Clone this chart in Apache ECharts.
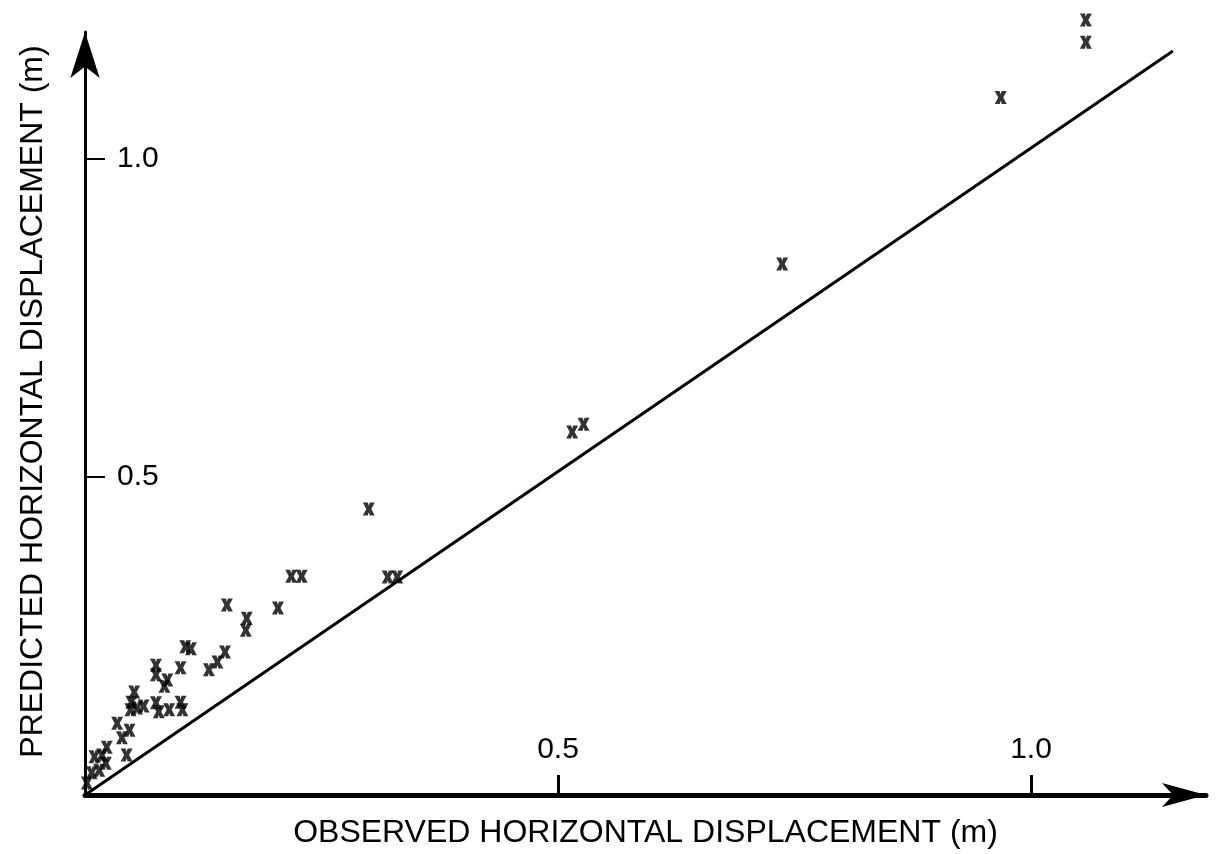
<!DOCTYPE html>
<html>
<head>
<meta charset="utf-8">
<title>Predicted vs observed horizontal displacement</title>
<script src="https://cdn.jsdelivr.net/npm/echarts@6/dist/echarts.min.js"></script>
<style>
  html, body { margin: 0; padding: 0; background: #fff; }
  #main { width: 1227px; height: 854px; }
</style>
</head>
<body>
<div id="main"></div>
<script>
// observed horizontal displacement (m)
var observed = [1.058, 1.058, 0.968, 0.737, 0.515, 0.527, 0.300, 0.320, 0.330, 0.218,
                0.229, 0.150, 0.204, 0.171, 0.170, 0.112, 0.106, 0.131, 0.140, 0.148,
                0.075, 0.075, 0.087, 0.084, 0.101, 0.052, 0.049, 0.055, 0.062, 0.048,
                0.075, 0.078, 0.089, 0.101, 0.103, 0.034, 0.047, 0.039, 0.023, 0.018,
                0.010, 0.022, 0.015, 0.007, 0.044, 0.002];
// predicted horizontal displacement (m)
var predicted = [1.219, 1.184, 1.097, 0.835, 0.571, 0.583, 0.450, 0.343, 0.343, 0.344,
                 0.344, 0.299, 0.294, 0.278, 0.259, 0.230, 0.233, 0.197, 0.209, 0.225,
                 0.204, 0.189, 0.181, 0.171, 0.200, 0.162, 0.146, 0.137, 0.140, 0.134,
                 0.145, 0.131, 0.134, 0.146, 0.134, 0.113, 0.102, 0.090, 0.075, 0.063,
                 0.060, 0.050, 0.039, 0.035, 0.063, 0.019];
// the 1:1 line
var lineX = [0, 1.15];
var lineY = [0, 1.17];
// tick labels
var tickValues = [0.5, 1.0];

// bold hourglass-like "x" used as the marker
var xMark = 'path://M0,0L5,0L6,3L7,0L12,0L8.5,6L12,12L7,12L6,9L5,12L0,12L3.5,6Z';

var myChart = echarts.init(document.getElementById('main'));

var points = [];
for (var i = 0; i < observed.length; i++) {
    points.push([observed[i], predicted[i]]);
}
var line = [];
for (var j = 0; j < lineX.length; j++) {
    line.push([lineX[j], lineY[j]]);
}

var font = 'Liberation Sans';

var option = {
    backgroundColor: '#fff',
    animation: false,
    grid: {
        left: 85,
        top: 32,
        width: 1121,
        height: 763
    },
    xAxis: {
        type: 'value',
        min: 0,
        max: 1.185,
        name: 'OBSERVED HORIZONTAL DISPLACEMENT (m)',
        nameLocation: 'middle',
        nameGap: 22,
        nameTextStyle: { color: '#000', fontSize: 32, fontFamily: font },
        axisLine: {
            lineStyle: { color: '#000', width: 5 },
            symbol: ['none', 'arrow'],
            symbolSize: [18, 44]
        },
        axisTick: { inside: true, length: 20, customValues: tickValues,
                    lineStyle: { color: '#000', width: 3 } },
        axisLabel: {
            inside: true,
            margin: 30,
            customValues: tickValues,
            color: '#000',
            fontSize: 30,
            fontFamily: font,
            formatter: function (v) { return v.toFixed(1); }
        },
        splitLine: { show: false }
    },
    yAxis: {
        type: 'value',
        min: 0,
        max: 1.2,
        name: 'PREDICTED HORIZONTAL DISPLACEMENT (m)',
        nameLocation: 'middle',
        nameRotate: 90,
        nameGap: 36,
        // left padding nudges the rotated title a little up
        nameTextStyle: { color: '#000', fontSize: 32, fontFamily: font, padding: [0, 0, 0, 24] },
        axisLine: {
            lineStyle: { color: '#000', width: 3 },
            symbol: ['none', 'arrow'],
            symbolSize: [22, 46]
        },
        axisTick: { inside: true, length: 20, customValues: tickValues,
                    lineStyle: { color: '#000', width: 2 } },
        axisLabel: {
            inside: true,
            margin: 32,
            customValues: tickValues,
            color: '#000',
            fontSize: 30,
            fontFamily: font,
            formatter: function (v) { return v.toFixed(1); }
        },
        splitLine: { show: false }
    },
    series: [
        {
            name: '1:1',
            type: 'line',
            data: line,
            symbol: 'none',
            lineStyle: { color: '#000', width: 3 }
        },
        {
            name: 'points',
            type: 'scatter',
            data: points,
            symbol: xMark,
            symbolSize: [12, 13],
            clip: false,
            itemStyle: { color: '#000' }
        }
    ]
};

myChart.setOption(option);
</script>
</body>
</html>
